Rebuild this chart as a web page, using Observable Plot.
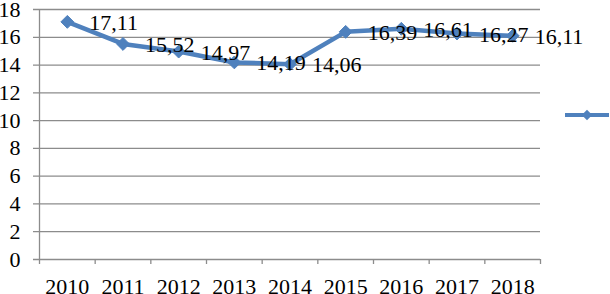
<!DOCTYPE html>
<html>
<head>
<meta charset="utf-8">
<script src="https://cdn.jsdelivr.net/npm/d3@7"></script>
<script src="https://cdn.jsdelivr.net/npm/@observablehq/plot@0.6"></script>
<style>
  html, body { margin: 0; padding: 0; background: #fff; }
  #wrap { position: relative; width: 610px; height: 294px; }
  #legend { position: absolute; left: 564px; top: 108px; }
</style>
</head>
<body>
<div id="wrap"></div>
<script>
const years = ["2010", "2011", "2012", "2013", "2014", "2015", "2016", "2017", "2018"];
const values = [17.11, 15.52, 14.97, 14.19, 14.06, 16.39, 16.61, 16.27, 16.11];
const yTicks = [0, 2, 4, 6, 8, 10, 12, 14, 16, 18];

const blue = "#4F81BD";
const gridColor = "#8c8c8c";
const font = "'Liberation Serif', 'Times New Roman', serif";

const data = years.map((y, i) => ({pos: i + 0.5, year: y, value: values[i]}));
const centers = data.map(d => d.pos);
const bounds = d3.range(years.length + 1);

const chart = Plot.plot({
  width: 610,
  height: 294,
  marginLeft: 39,
  marginRight: 70,
  marginTop: 9,
  marginBottom: 35,
  style: {fontFamily: font, fontSize: "22px", color: "#000", background: "#fff", overflow: "visible"},
  x: {type: "linear", domain: [0, years.length], axis: null, label: null},
  y: {domain: [0, 18], axis: null, label: null},
  marks: [
    Plot.ruleY(yTicks, {y: d => d, stroke: gridColor, strokeWidth: 1.3, insetLeft: -6}),
    Plot.ruleX([0], {stroke: gridColor, strokeWidth: 1.3}),
    Plot.axisY({ticks: yTicks, tickSize: 0, tickPadding: 19, label: null, tickFormat: d => String(d), fill: "#000", fontSize: 22}),
    Plot.axisX({ticks: bounds, tickSize: 5, label: null, tickFormat: () => "", stroke: gridColor, strokeWidth: 1.3}),
    Plot.axisX({ticks: centers, tickSize: 0, tickPadding: 19, label: null, tickFormat: d => years[Math.round(d - 0.5)], fill: "#000", fontSize: 22}),
    Plot.line(data, {x: "pos", y: "value", stroke: blue, strokeWidth: 4.5}),
    Plot.dot(data, {x: "pos", y: "value", symbol: "diamond2", r: 5.8, fill: blue, stroke: blue, strokeWidth: 1}),
    Plot.text(data, {x: "pos", y: "value", text: d => d.value.toFixed(2).replace(".", ","), textAnchor: "start", dx: 22, dy: 1, fill: "#000", fontSize: 22})
  ]
});
document.getElementById("wrap").appendChild(chart);

// legend (series with empty name): line + diamond
const lg = d3.select("#wrap").append("svg")
  .attr("id", "legend").attr("width", 46).attr("height", 16);
lg.append("line").attr("x1", 1).attr("x2", 45).attr("y1", 7).attr("y2", 7)
  .attr("stroke", blue).attr("stroke-width", 4);
lg.append("path").attr("transform", "translate(23,7)")
  .attr("d", d3.symbol(d3.symbolDiamond2, 70)())
  .attr("fill", blue);
</script>
</body>
</html>
